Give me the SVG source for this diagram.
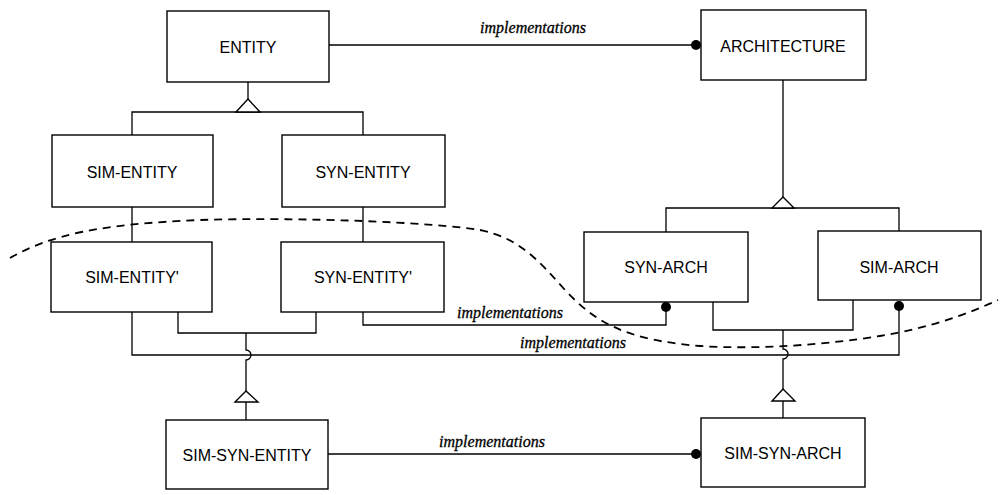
<svg xmlns="http://www.w3.org/2000/svg" width="1000" height="495" viewBox="0 0 1000 495">
<style>
.box{fill:#fff;stroke:#000;stroke-width:1.4}
.lbl{font-family:"Liberation Sans",Arial,sans-serif;font-size:16px;text-anchor:middle;fill:#000}
.ln{fill:none;stroke:#000;stroke-width:1.3}
.tri{fill:#fff;stroke:#000;stroke-width:1.4}
.dot{fill:#000}
.impl{font-family:"Liberation Serif","Times New Roman",serif;font-style:italic;font-size:16px;text-anchor:middle;fill:#000;stroke:#000;stroke-width:0.3}
.dash{fill:none;stroke:#000;stroke-width:1.8;stroke-dasharray:8 6}
</style>
<rect width="1000" height="495" fill="#fff"/>
<g id="connectors">
  <path class="ln" d="M329 45 H696"/>
  <circle class="dot" cx="696" cy="45" r="5"/>
  <text class="impl" x="533" y="33">implementations</text>

  <path class="ln" d="M248 82 V99 M132 135 V112 H363 V135"/>
  <polygon class="tri" points="248,99 236,112 260,112"/>

  <path class="ln" d="M132 207 V242 M363 207 V242"/>

  <path class="ln" d="M783 80 V197 M666 232 V208 H899 V231"/>
  <polygon class="tri" points="783,197 772,208 794,208"/>

  <path class="ln" d="M178 312 V333 H316 V312 M246 333 V350 A5 5 0 0 1 246 360 V391 M246 402 V420"/>
  <polygon class="tri" points="246,391 235,402 258,402"/>

  <path class="ln" d="M713 302 V330 H853 V300 M783 330 V349 A5 5 0 0 1 783 359 V389 M783 401 V418"/>
  <polygon class="tri" points="783,389 772,401 795,401"/>

  <path class="ln" d="M363 312 V325 H666 V307"/>
  <circle class="dot" cx="666" cy="307" r="5"/>
  <text class="impl" x="510" y="318">implementations</text>

  <path class="ln" d="M132 312 V355 H899 V307"/>
  <circle class="dot" cx="899" cy="306" r="5"/>
  <text class="impl" x="573" y="348">implementations</text>

  <path class="ln" d="M328 454 H696"/>
  <circle class="dot" cx="696" cy="454" r="5"/>
  <text class="impl" x="492" y="447">implementations</text>
</g>
<path class="dash" d="M10 258 C50 235,100 224,200 220 C300 217,430 222,480 230 C520 238,540 262,565 290 C595 322,625 340,700 346 C760 350,830 344,880 336 C930 328,970 313,998 300"/>
<g id="entity"><rect class="box" x="167" y="11" width="162" height="71"/><text class="lbl" x="248" y="53">ENTITY</text></g>
<g id="architecture"><rect class="box" x="701" y="10" width="165" height="70"/><text class="lbl" x="783" y="52">ARCHITECTURE</text></g>
<g id="sim-entity"><rect class="box" x="52" y="135" width="161" height="72"/><text class="lbl" x="132" y="178">SIM-ENTITY</text></g>
<g id="syn-entity"><rect class="box" x="282" y="135" width="163" height="72"/><text class="lbl" x="363" y="178">SYN-ENTITY</text></g>
<g id="sim-entity-p"><rect class="box" x="51" y="242" width="161" height="70"/><text class="lbl" x="132" y="283">SIM-ENTITY'</text></g>
<g id="syn-entity-p"><rect class="box" x="281" y="242" width="163" height="70"/><text class="lbl" x="363" y="283">SYN-ENTITY'</text></g>
<g id="syn-arch"><rect class="box" x="584" y="232" width="164" height="70"/><text class="lbl" x="666" y="273">SYN-ARCH</text></g>
<g id="sim-arch"><rect class="box" x="818" y="231" width="163" height="69"/><text class="lbl" x="899" y="273">SIM-ARCH</text></g>
<g id="sim-syn-entity"><rect class="box" x="166" y="420" width="162" height="69"/><text class="lbl" x="247" y="461">SIM-SYN-ENTITY</text></g>
<g id="sim-syn-arch"><rect class="box" x="701" y="418" width="164" height="69"/><text class="lbl" x="783" y="459">SIM-SYN-ARCH</text></g>
</svg>
